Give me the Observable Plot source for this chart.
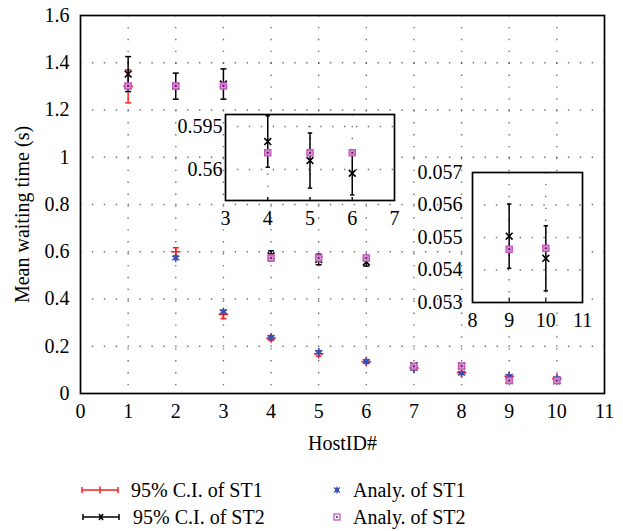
<!DOCTYPE html>
<html><head><meta charset="utf-8">
<script src="https://cdn.jsdelivr.net/npm/d3@7"></script>
<script src="https://cdn.jsdelivr.net/npm/@observablehq/plot@0.6"></script>
<style>
body{margin:0;background:#fff;font-family:"Liberation Serif","Tinos","Noto Serif","DejaVu Serif","Times New Roman",Times,serif;}
#wrap{position:relative;width:623px;height:531px;overflow:hidden;}
.abs{position:absolute;}
svg text{font-family:inherit;}
.lg{position:absolute;font-size:20px;line-height:20px;white-space:nowrap;color:#000;}
</style></head><body><div id="wrap"></div>
<script>
// ---- data ----
const hosts   = [1, 2, 3, 4, 5, 6, 7, 8, 9, 10];
const st1Mean = [1.300, 0.600, 0.335, 0.235, 0.168, 0.135, 0.108, 0.088, 0.073, 0.063];
const st1Half = [0.070, 0.017, 0.018, 0.010, 0.010, 0.008, 0.006, 0.005, 0.004, 0.004];
const st2Mean = [1.352, 1.301, 1.310, 0.5828, 0.5673, 0.5570, 0.118, 0.117, 0.05504, 0.05436];
const st2Half = [0.074, 0.055, 0.064, 0.0209, 0.0224, 0.0177, 0.006, 0.006, 0.00099, 0.00100];
const anaST1  = [1.300, 0.573, 0.346, 0.237, 0.175, 0.136, 0.106, 0.086, 0.073, 0.064];
const anaST2  = [1.302, 1.302, 1.302, 0.5736, 0.5736, 0.5736, 0.115, 0.116, 0.05464, 0.05467];
const xTicks  = [0, 1, 2, 3, 4, 5, 6, 7, 8, 9, 10, 11];
const yTicks  = [0, 0.2, 0.4, 0.6, 0.8, 1, 1.2, 1.4, 1.6];
const inset1XTicks = [3, 4, 5, 6, 7];
const inset1YTicks = [0.56, 0.595];
const inset2XTicks = [8, 9, 10, 11];
const inset2YTicks = [0.053, 0.054, 0.055, 0.056, 0.057];
const legendLabels = ["95% C.I. of ST1", "95% C.I. of ST2", "Analy. of ST1", "Analy. of ST2"];

const FONT = 'inherit';
const FS = 20;
const RED = "#ff1e1e", BLUE = "#3b4fb4", PINK = "#c455bc";

const rows = hosts.map((h, i) => ({
  h,
  m1: st1Mean[i], lo1: st1Mean[i] - st1Half[i], hi1: st1Mean[i] + st1Half[i],
  m2: st2Mean[i], lo2: st2Mean[i] - st2Half[i], hi2: st2Mean[i] + st2Half[i],
  a1: anaST1[i], a2: anaST2[i]
}));

const cap = {draw(ctx, size) { const r = Math.sqrt(size / Math.PI); ctx.moveTo(-r, 0); ctx.lineTo(r, 0); }};
const grid = {stroke: "#444", strokeOpacity: 0.75, strokeWidth: 1.4, strokeDasharray: "1.4,10.5"};

function ciMarks(data, key, color, sym, capR, clip) {
  return [
    Plot.ruleX(data, {x: "h", y1: "lo" + key, y2: "hi" + key, stroke: color, strokeWidth: 1.5, clip}),
    Plot.dot(data, {x: "h", y: "lo" + key, symbol: cap, r: capR, stroke: color, strokeWidth: 1.5, clip}),
    Plot.dot(data, {x: "h", y: "hi" + key, symbol: cap, r: capR, stroke: color, strokeWidth: 1.5, clip}),
    Plot.dot(data, {x: "h", y: "m" + key, symbol: sym, r: 3.2, stroke: color, strokeWidth: 1.6, clip})
  ];
}
function anaST1Marks(data) {
  return [
    Plot.dot(data, {x: "h", y: "a1", symbol: "square", r: 2.4, fill: BLUE}),
    Plot.dot(data, {x: "h", y: "a1", symbol: "asterisk", r: 4, stroke: BLUE, strokeWidth: 1.4})
  ];
}
function anaST2Marks(data, clip) {
  return [
    Plot.dot(data, {x: "h", y: "a2", symbol: "square", r: 3.5, fill: "#d88fd3", stroke: PINK, strokeWidth: 1.3, clip}),
    Plot.dot(data, {x: "h", y: "a2", r: 1.1, fill: "#5a1d55", clip})
  ];
}

const wrap = document.getElementById("wrap");

// ---- main chart ----
const main = Plot.plot({
  width: 623, height: 460,
  marginLeft: 80, marginRight: 19, marginTop: 15, marginBottom: 67,
  style: {fontFamily: FONT, fontSize: FS + "px", background: "transparent", color: "#000", overflow: "visible"},
  x: {domain: [0, 11], ticks: xTicks, tickSize: 0, tickPadding: 10, tickFormat: d => String(d), label: null},
  y: {domain: [0, 1.6], ticks: yTicks, tickSize: 0, tickPadding: 11, tickFormat: d => String(d), label: null},
  marks: [
    Plot.gridX(hosts, {...grid}),
    Plot.gridY(yTicks.slice(1, -1), {...grid}),
    Plot.frame({stroke: "#000", strokeWidth: 1.7}),
    ...ciMarks(rows, "1", RED, "plus", 3, false),
    ...ciMarks(rows, "2", "#000", "times", 3, false),
    ...anaST1Marks(rows),
    ...anaST2Marks(rows, false),
    Plot.text(["HostID#"], {frameAnchor: "bottom", textAnchor: "middle", dy: 56, fontSize: FS, fill: "#000"}),
    Plot.text(["Mean waiting time (s)"], {frameAnchor: "left", textAnchor: "middle", dx: -58, dy: 10, rotate: -90, fontSize: FS, fill: "#000"})
  ]
});
main.classList.add("abs");
main.style.left = "0px"; main.style.top = "0px";
wrap.appendChild(main);

// ---- insets ----
function inset(data, xd, yd, xt, yt, box, fmt, capR) {
  const mL = 66, mR = 14, mT = 12, mB = 36;
  const p = Plot.plot({
    width: box.w + mL + mR, height: box.h + mT + mB,
    marginLeft: mL, marginRight: mR, marginTop: mT, marginBottom: mB,
    style: {fontFamily: FONT, fontSize: FS + "px", background: "transparent", color: "#000", overflow: "visible"},
    x: {domain: xd, ticks: xt, tickSize: 0, tickPadding: box.xpad, tickFormat: d => String(d), label: null},
    y: {domain: yd, ticks: yt, tickSize: 0, tickPadding: box.ypad, tickFormat: fmt, label: null},
    marks: [
      Plot.frame({fill: "white"}),
      Plot.gridX(xt.slice(1, -1), {...grid}),
      Plot.gridY(yt.filter(v => v > yd[0] && v < yd[1]), {...grid}),
      Plot.ruleX(xt.slice(1, -1), {x: d => d, y1: yd[0], y2: yd[0] + (yd[1] - yd[0]) * 0.035, stroke: "#000", strokeWidth: 1.2}),
      ...ciMarks(data, "2", "#000", "times", capR, true),
      ...anaST2Marks(data, true),
      Plot.frame({stroke: "#000", strokeWidth: 1.7})
    ]
  });
  p.classList.add("abs");
  p.style.left = (box.x - mL) + "px"; p.style.top = (box.y - mT) + "px";
  wrap.appendChild(p);
}
inset(rows.filter(d => d.h >= 4 && d.h <= 6), [3, 7], [0.5348, 0.6048], inset1XTicks, inset1YTicks,
  {x: 225, y: 114, w: 169, h: 86, xpad: 10, ypad: 3}, d => String(d), 2.2);
inset(rows.filter(d => d.h >= 9), [8, 11], [0.053, 0.057], inset2XTicks, inset2YTicks,
  {x: 472, y: 172, w: 110, h: 130, xpad: 10, ypad: 10}, d => d3.format(".3f")(d), 2.2);

// ---- legend ----
function lgSym(x, y, svgInner) {
  const s = document.createElementNS("http://www.w3.org/2000/svg", "svg");
  s.setAttribute("width", 44); s.setAttribute("height", 16);
  s.style.position = "absolute"; s.style.left = (x - 22) + "px"; s.style.top = (y - 8) + "px";
  s.innerHTML = svgInner;
  wrap.appendChild(s);
}
function lgText(x, y, t) {
  const d = document.createElement("div");
  d.className = "lg"; d.style.left = x + "px"; d.style.top = (y - 10) + "px"; d.textContent = t;
  wrap.appendChild(d);
}
lgSym(100, 490, `<g stroke="${RED}" stroke-width="1.5" fill="none"><line x1="4" y1="8" x2="40" y2="8"/><line x1="4" y1="5" x2="4" y2="11"/><line x1="40" y1="5" x2="40" y2="11"/><line x1="22" y1="4.5" x2="22" y2="11.5"/></g>`);
lgSym(101, 517, `<g stroke="#000" stroke-width="1.5" fill="none"><line x1="4" y1="8" x2="40" y2="8"/><line x1="4" y1="5" x2="4" y2="11"/><line x1="40" y1="5" x2="40" y2="11"/><line x1="20" y1="5" x2="24" y2="11"/><line x1="24" y1="5" x2="20" y2="11"/></g>`);
lgSym(337, 490, `<g><rect x="20" y="6" width="4" height="4" fill="${BLUE}"/><g stroke="${BLUE}" stroke-width="1.3"><line x1="22" y1="4.5" x2="22" y2="11.5"/><line x1="19" y1="5.5" x2="25" y2="10.5"/><line x1="25" y1="5.5" x2="19" y2="10.5"/></g></g>`);
lgSym(337, 517, `<g><rect x="19" y="5" width="6" height="6" fill="white" stroke="${PINK}" stroke-width="1.3"/><circle cx="22" cy="8" r="1" fill="#5a1d55"/></g>`);
lgText(131, 490, legendLabels[0]);
lgText(133, 517, legendLabels[1]);
lgText(353, 490, legendLabels[2]);
lgText(353, 517, legendLabels[3]);
</script></body></html>
